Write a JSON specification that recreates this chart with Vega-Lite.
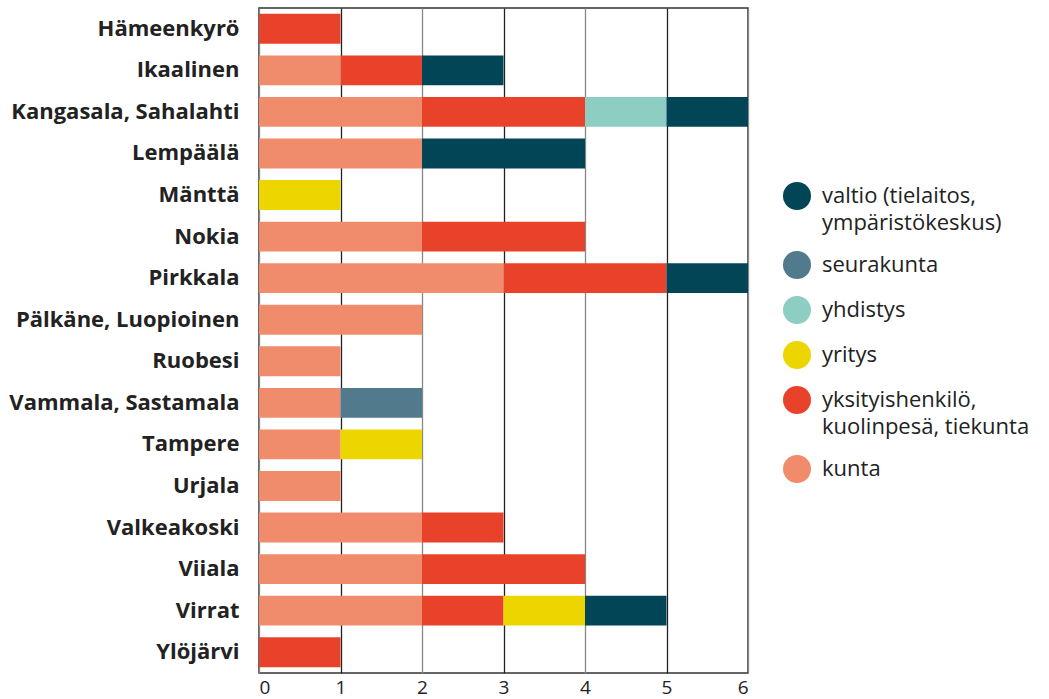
{
  "$schema": "https://vega.github.io/schema/vega-lite/v6.json",
  "width": 489,
  "height": 665,
  "autosize": "none",
  "padding": {"left": 259, "top": 8, "right": 301, "bottom": 26},
  "background": "white",
  "data": {
    "values": [
      {"alue": "Hämeenkyrö", "omistaja": "yksityishenkilö, kuolinpesä, tiekunta", "o": 2, "n": 1},
      {"alue": "Ikaalinen", "omistaja": "kunta", "o": 1, "n": 1},
      {"alue": "Ikaalinen", "omistaja": "yksityishenkilö, kuolinpesä, tiekunta", "o": 2, "n": 1},
      {"alue": "Ikaalinen", "omistaja": "valtio (tielaitos, ympäristökeskus)", "o": 6, "n": 1},
      {"alue": "Kangasala, Sahalahti", "omistaja": "kunta", "o": 1, "n": 2},
      {"alue": "Kangasala, Sahalahti", "omistaja": "yksityishenkilö, kuolinpesä, tiekunta", "o": 2, "n": 2},
      {"alue": "Kangasala, Sahalahti", "omistaja": "yhdistys", "o": 4, "n": 1},
      {"alue": "Kangasala, Sahalahti", "omistaja": "valtio (tielaitos, ympäristökeskus)", "o": 6, "n": 1},
      {"alue": "Lempäälä", "omistaja": "kunta", "o": 1, "n": 2},
      {"alue": "Lempäälä", "omistaja": "valtio (tielaitos, ympäristökeskus)", "o": 6, "n": 2},
      {"alue": "Mänttä", "omistaja": "yritys", "o": 3, "n": 1},
      {"alue": "Nokia", "omistaja": "kunta", "o": 1, "n": 2},
      {"alue": "Nokia", "omistaja": "yksityishenkilö, kuolinpesä, tiekunta", "o": 2, "n": 2},
      {"alue": "Pirkkala", "omistaja": "kunta", "o": 1, "n": 3},
      {"alue": "Pirkkala", "omistaja": "yksityishenkilö, kuolinpesä, tiekunta", "o": 2, "n": 2},
      {"alue": "Pirkkala", "omistaja": "valtio (tielaitos, ympäristökeskus)", "o": 6, "n": 1},
      {"alue": "Pälkäne, Luopioinen", "omistaja": "kunta", "o": 1, "n": 2},
      {"alue": "Ruobesi", "omistaja": "kunta", "o": 1, "n": 1},
      {"alue": "Vammala, Sastamala", "omistaja": "kunta", "o": 1, "n": 1},
      {"alue": "Vammala, Sastamala", "omistaja": "seurakunta", "o": 5, "n": 1},
      {"alue": "Tampere", "omistaja": "kunta", "o": 1, "n": 1},
      {"alue": "Tampere", "omistaja": "yritys", "o": 3, "n": 1},
      {"alue": "Urjala", "omistaja": "kunta", "o": 1, "n": 1},
      {"alue": "Valkeakoski", "omistaja": "kunta", "o": 1, "n": 2},
      {"alue": "Valkeakoski", "omistaja": "yksityishenkilö, kuolinpesä, tiekunta", "o": 2, "n": 1},
      {"alue": "Viiala", "omistaja": "kunta", "o": 1, "n": 2},
      {"alue": "Viiala", "omistaja": "yksityishenkilö, kuolinpesä, tiekunta", "o": 2, "n": 2},
      {"alue": "Virrat", "omistaja": "kunta", "o": 1, "n": 2},
      {"alue": "Virrat", "omistaja": "yksityishenkilö, kuolinpesä, tiekunta", "o": 2, "n": 1},
      {"alue": "Virrat", "omistaja": "yritys", "o": 3, "n": 1},
      {"alue": "Virrat", "omistaja": "valtio (tielaitos, ympäristökeskus)", "o": 6, "n": 1},
      {"alue": "Ylöjärvi", "omistaja": "yksityishenkilö, kuolinpesä, tiekunta", "o": 2, "n": 1}
    ]
  },
  "mark": {"type": "bar"},
  "encoding": {
    "y": {
      "field": "alue",
      "type": "nominal",
      "sort": ["Hämeenkyrö", "Ikaalinen", "Kangasala, Sahalahti", "Lempäälä", "Mänttä", "Nokia", "Pirkkala", "Pälkäne, Luopioinen", "Ruobesi", "Vammala, Sastamala", "Tampere", "Urjala", "Valkeakoski", "Viiala", "Virrat", "Ylöjärvi"],
      "scale": {"paddingInner": 0.28, "paddingOuter": 0.14},
      "axis": {
        "title": null,
        "ticks": false,
        "domain": false,
        "labelFont": "Open Sans",
        "labelFontWeight": "bold",
        "labelFontSize": 22,
        "labelColor": "#222222",
        "labelPadding": 20,
        "labelLimit": 300
      }
    },
    "x": {
      "field": "n",
      "type": "quantitative",
      "stack": "zero",
      "scale": {"domain": [0, 6], "nice": false},
      "axis": {
        "title": null,
        "values": [0, 1, 2, 3, 4, 5, 6],
        "format": "d",
        "ticks": false,
        "domain": false,
        "grid": true,
        "gridColor": {"condition": {"test": "datum.value % 2 == 0", "value": "#888888"}, "value": "#222222"},
        "gridOpacity": 1,
        "gridWidth": 1.3,
        "labelFont": "Open Sans",
        "labelFontSize": 19,
        "labelColor": "#222222",
        "labelPadding": 5
      }
    },
    "order": {"field": "o", "type": "quantitative"},
    "color": {
      "field": "omistaja",
      "type": "nominal",
      "scale": {
        "domain": ["valtio (tielaitos, ympäristökeskus)", "seurakunta", "yhdistys", "yritys", "yksityishenkilö, kuolinpesä, tiekunta", "kunta"],
        "range": ["#024557", "#517A8C", "#8ECEC2", "#EDD500", "#E8432A", "#F08C6C"]
      },
      "legend": {
        "title": null,
        "orient": "none",
        "legendX": 524,
        "legendY": 174,
        "symbolType": "circle",
        "symbolSize": 784,
        "symbolOpacity": 1,
        "symbolStrokeWidth": 0,
        "labelFont": "Open Sans",
        "labelFontSize": 22,
        "labelColor": "#222222",
        "labelOffset": 11,
        "labelLimit": 400,
        "rowPadding": 17,
        "labelExpr": "datum.label == 'valtio (tielaitos, ympäristökeskus)' ? ['valtio (tielaitos,', 'ympäristökeskus)'] : datum.label == 'yksityishenkilö, kuolinpesä, tiekunta' ? ['yksityishenkilö,', 'kuolinpesä, tiekunta'] : datum.label"
      }
    }
  },
  "config": {
    "view": {"stroke": "#333333", "strokeWidth": 1.5},
    "style": {"guide-label": {"lineHeight": 27}}
  }
}
